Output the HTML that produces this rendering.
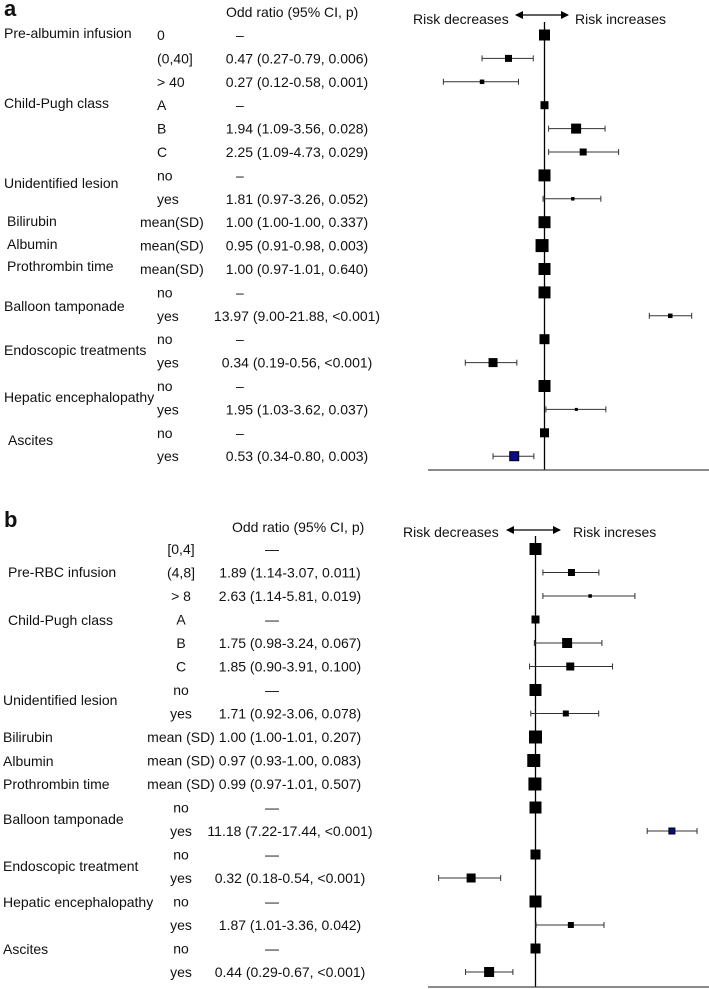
<!DOCTYPE html>
<html><head><meta charset="utf-8"><style>
html,body{margin:0;padding:0;background:#fff;}
svg{display:block;font-family:"Liberation Sans",Arial,sans-serif;}
text{font-size:14px;fill:#111;}
</style></head><body>
<svg id="chart" width="709" height="989" viewBox="0 0 709 989" xmlns="http://www.w3.org/2000/svg">
<defs><marker id="ah" markerWidth="8" markerHeight="8" refX="7" refY="4" orient="auto-start-reverse" markerUnits="userSpaceOnUse"><path d="M0,0 L8,4 L0,8 z" fill="#000"/></marker></defs>
<g id="pa"></g>
<g id="pb"></g>
</svg>
<script>
// Panel a data
const aOR = [1,0.47,0.27,1,1.94,2.25,1,1.81,1.00,0.95,1.00,1,13.97,1,0.34,1,1.95,1,0.53];
const aLo = [null,0.27,0.12,null,1.09,1.09,null,0.97,1.00,0.91,0.97,null,9.00,null,0.19,null,1.03,null,0.34];
const aHi = [null,0.79,0.58,null,3.56,4.73,null,3.26,1.00,0.98,1.01,null,21.88,null,0.56,null,3.62,null,0.80];
const aWeight = [11,7,4.5,8,10,7,12,3.5,12,13,12,12,4.5,10,9,12,3,9,9];
const aSub = ["0","(0,40]","> 40","A","B","C","no","yes","mean(SD)","mean(SD)","mean(SD)","no","yes","no","yes","no","yes","no","yes"];
const aText = ["–","0.47 (0.27-0.79, 0.006)","0.27 (0.12-0.58, 0.001)","–","1.94 (1.09-3.56, 0.028)","2.25 (1.09-4.73, 0.029)","–","1.81 (0.97-3.26, 0.052)","1.00 (1.00-1.00, 0.337)","0.95 (0.91-0.98, 0.003)","1.00 (0.97-1.01, 0.640)","–","13.97 (9.00-21.88, <0.001)","–","0.34 (0.19-0.56, <0.001)","–","1.95 (1.03-3.62, 0.037)","–","0.53 (0.34-0.80, 0.003)"];
const aGroups = ["Pre-albumin infusion","Child-Pugh class","Unidentified lesion","Bilirubin","Albumin","Prothrombin time","Balloon tamponade","Endoscopic treatments","Hepatic encephalopathy","Ascites"];
const aGroupY = [33,103,183,221,244,266,306,350,397,440];
// Panel b data
const bOR = [1,1.89,2.63,1,1.75,1.85,1,1.71,1.00,0.97,0.99,1,11.18,1,0.32,1,1.87,1,0.44];
const bLo = [null,1.14,1.14,null,0.98,0.90,null,0.92,1.00,0.93,0.97,null,7.22,null,0.18,null,1.01,null,0.29];
const bHi = [null,3.07,5.81,null,3.24,3.91,null,3.06,1.01,1.00,1.01,null,17.44,null,0.54,null,3.36,null,0.67];
const bWeight = [12,7,3.5,8,10,8,12,6,13,13,13,12,6,10,9,12,6,10,10];
const bSub = ["[0,4]","(4,8]","> 8","A","B","C","no","yes","mean (SD)","mean (SD)","mean (SD)","no","yes","no","yes","no","yes","no","yes"];
const bText = ["—","1.89 (1.14-3.07, 0.011)","2.63 (1.14-5.81, 0.019)","—","1.75 (0.98-3.24, 0.067)","1.85 (0.90-3.91, 0.100)","—","1.71 (0.92-3.06, 0.078)","1.00 (1.00-1.01, 0.207)","0.97 (0.93-1.00, 0.083)","0.99 (0.97-1.01, 0.507)","—","11.18 (7.22-17.44, <0.001)","—","0.32 (0.18-0.54, <0.001)","—","1.87 (1.01-3.36, 0.042)","—","0.44 (0.29-0.67, <0.001)"];
const bGroups = ["Pre-RBC infusion","Child-Pugh class","Unidentified lesion","Bilirubin","Albumin","Prothrombin time","Balloon tamponade","Endoscopic treatment","Hepatic encephalopathy","Ascites"];
const bGroupY = [572,620,700,737,761,784,819,866,902,949];

const NS="http://www.w3.org/2000/svg";
function mk(parent,tag,attrs,txt){const e=document.createElementNS(NS,tag);for(const k in attrs)e.setAttribute(k,attrs[k]);if(txt!==undefined)e.textContent=txt;parent.appendChild(e);return e;}

function panel(g,cfg){
  const xS=v=>cfg.cx+Math.log(v)*cfg.scale;
  const yS=i=>cfg.y0+i*cfg.step;
  let t=mk(g,'text',{x:4,y:cfg.letterY,style:'font-size:22px;font-weight:bold'},cfg.letter);
  
  
  t=mk(g,'text',{x:cfg.hdrX,y:cfg.hdrY},'Odd ratio (95% CI, p)');
  
  
  t=mk(g,'text',{x:cfg.decX,y:cfg.riskY,'dominant-baseline':'central'},'Risk decreases');
  
  
  t=mk(g,'text',{x:cfg.incX,y:cfg.riskY,'dominant-baseline':'central'},cfg.incText);
  
  
  let l=mk(g,'line',{x1:cfg.arX1,x2:cfg.arX2,y1:cfg.arY,y2:cfg.arY,stroke:'#000','stroke-width':1.3,'marker-start':'url(#ah)','marker-end':'url(#ah)'});
  
  
  l=mk(g,'line',{x1:cfg.cx,x2:cfg.cx,y1:cfg.axTop,y2:cfg.base,stroke:'#000','stroke-width':1.3});
  
  
  l=mk(g,'line',{x1:428,x2:709,y1:cfg.base,y2:cfg.base,stroke:'#444','stroke-width':1.3});
  
  
  cfg.groups.forEach((s,i)=>{
    const e=mk(g,'text',{x:cfg.grpX[i]!==undefined?cfg.grpX[i]:cfg.grpXd,y:cfg.groupY[i],'dominant-baseline':'central'},s);
    
    
  });
  cfg.or.forEach((v,i)=>{
    const y=yS(i);
    const sy=y;
    const st=mk(g,'text',Object.assign({y:sy,'dominant-baseline':'central'},cfg.subAttr(cfg.sub[i])),cfg.sub[i]);
    
    
    const txt=cfg.text[i];
    const isDash=(cfg.lo[i]===null);
    const ot=mk(g,'text',{x:isDash?cfg.dashX:cfg.orX,y:sy,'dominant-baseline':'central','text-anchor':isDash?'start':'middle'},txt);
    
    
    if(cfg.lo[i]!==null){
      const x1=xS(cfg.lo[i]),x2=xS(cfg.hi[i]);
      const w=mk(g,'path',{d:`M${x1},${y}H${x2}M${x1},${y-3}V${y+3}M${x2},${y-3}V${y+3}`,stroke:'#333','stroke-width':1,fill:'none'});
      
      
    }
    const s=cfg.w[i];
    const blue=cfg.blue===i;
    const r=mk(g,'rect',{x:xS(v)-s/2,y:y-s/2,width:s,height:s,fill:blue?'#0a0a8a':'#000',stroke:'#000','stroke-width':blue?1:0});
    
    
  });
}
panel(document.getElementById('pa'),{cx:544.5,scale:47.7,y0:35,step:23.4,letter:'a',letterY:16,hdrX:226,hdrY:17,
  decX:413,incX:575,riskY:19,incText:'Risk increases',arX1:516,arX2:568,arY:15,axTop:22,base:470,
  groups:aGroups,groupY:aGroupY,grpXd:4,grpX:[4,4,4,7,7,7,4,4,4,8],
  or:aOR,lo:aLo,hi:aHi,w:aWeight,sub:aSub,text:aText,orX:297,dashX:236,blue:18,
  subAttr:s=>({x:s.startsWith('mean')?140:157})});
panel(document.getElementById('pb'),{cx:535.5,scale:56.5,y0:549,step:23.5,letter:'b',letterY:527,hdrX:232,hdrY:532,
  decX:403,incX:573,riskY:532,incText:'Risk increses',arX1:507,arX2:560,arY:530,axTop:536,base:987,
  groups:bGroups,groupY:bGroupY,grpXd:3,grpX:[8,8,3,3,3,3,3,3,3,3],
  or:bOR,lo:bLo,hi:bHi,w:bWeight,sub:bSub,text:bText,orX:290,dashX:265,blue:12,
  subAttr:s=>({x:181,'text-anchor':'middle'})});
</script>
</body></html>
